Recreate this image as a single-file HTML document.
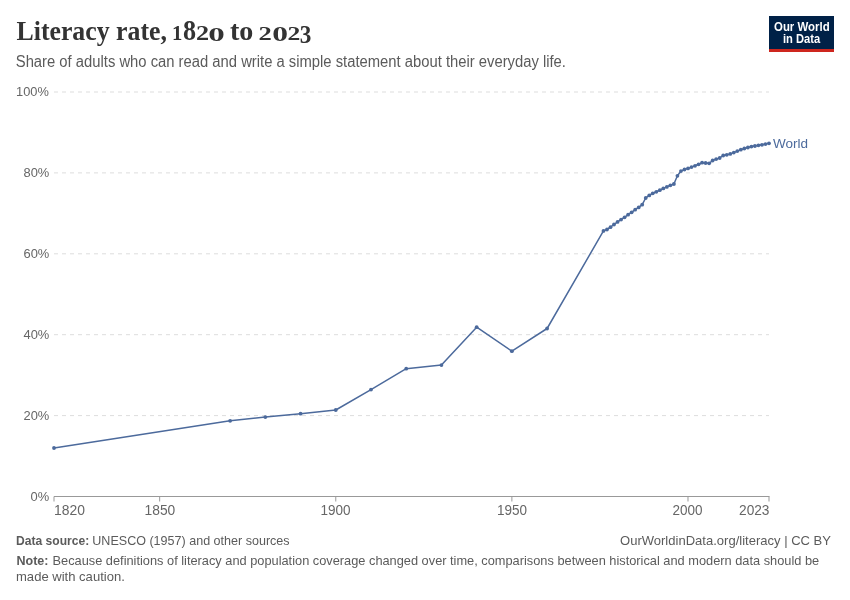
<!DOCTYPE html>
<html><head><meta charset="utf-8"><title>Literacy rate, 1820 to 2023</title><style>
html,body{margin:0;padding:0;background:#fff;}
body{width:850px;height:600px;overflow:hidden;position:relative;font-family:"Liberation Sans",sans-serif;}
svg{position:absolute;left:0;top:0;will-change:transform;}
</style></head><body>
<svg width="850" height="600" viewBox="0 0 850 600">
<rect width="850" height="600" fill="#fff"/>
<rect x="769" y="16" width="65" height="36" fill="#002147"/>
<rect x="769" y="49" width="65" height="3" fill="#ce261e"/>
<g stroke="#ddd" stroke-width="1" stroke-dasharray="4,4">
<line x1="54" x2="769" y1="415.60" y2="415.60"/>
<line x1="54" x2="769" y1="334.70" y2="334.70"/>
<line x1="54" x2="769" y1="253.80" y2="253.80"/>
<line x1="54" x2="769" y1="172.90" y2="172.90"/>
<line x1="54" x2="769" y1="92.00" y2="92.00"/>
</g>
<line x1="54" x2="769.5" y1="496.5" y2="496.5" stroke="#999" stroke-width="1"/>
<g stroke="#999" stroke-width="1">
<line x1="54.00" x2="54.00" y1="496.5" y2="501.5"/>
<line x1="159.67" x2="159.67" y1="496.5" y2="501.5"/>
<line x1="335.77" x2="335.77" y1="496.5" y2="501.5"/>
<line x1="511.88" x2="511.88" y1="496.5" y2="501.5"/>
<line x1="687.99" x2="687.99" y1="496.5" y2="501.5"/>
<line x1="769.00" x2="769.00" y1="496.5" y2="501.5"/>
</g>
<path d="M54.0,448.0 L230.11,420.8 L265.33,417.1 L300.55,413.7 L335.77,410.0 L371.0,389.6 L406.22,368.7 L441.44,365.1 L476.66,327.2 L511.88,351.2 L547.1,328.5 L603.46,230.9 L606.98,229.5 L610.5,227.2 L614.02,224.5 L617.55,221.9 L621.07,219.6 L624.59,217.3 L628.11,214.7 L631.64,212.3 L635.16,209.7 L638.68,207.4 L642.2,204.7 L645.72,198.0 L649.25,195.4 L652.77,193.3 L656.29,191.8 L659.81,190.2 L663.33,188.4 L666.86,186.9 L670.38,185.3 L673.9,184.0 L677.42,175.8 L680.95,171.1 L684.47,169.5 L687.99,168.4 L691.51,167.1 L695.03,165.8 L698.56,164.3 L702.08,162.7 L705.6,163.0 L709.12,163.3 L712.65,160.5 L716.17,159.1 L719.69,158.0 L723.21,155.5 L726.73,154.8 L730.26,153.9 L733.78,152.6 L737.3,151.1 L740.82,149.7 L744.34,148.5 L747.87,147.5 L751.39,146.6 L754.91,146.0 L758.43,145.3 L761.96,144.8 L765.48,144.1 L769.0,143.3" fill="none" stroke="#4c6a9c" stroke-width="1.5" stroke-linejoin="round"/>
<g fill="#4c6a9c">
<circle cx="54.0" cy="448.0" r="1.9"/>
<circle cx="230.11" cy="420.8" r="1.9"/>
<circle cx="265.33" cy="417.1" r="1.9"/>
<circle cx="300.55" cy="413.7" r="1.9"/>
<circle cx="335.77" cy="410.0" r="1.9"/>
<circle cx="371.0" cy="389.6" r="1.9"/>
<circle cx="406.22" cy="368.7" r="1.9"/>
<circle cx="441.44" cy="365.1" r="1.9"/>
<circle cx="476.66" cy="327.2" r="1.9"/>
<circle cx="511.88" cy="351.2" r="1.9"/>
<circle cx="547.1" cy="328.5" r="1.9"/>
<circle cx="603.46" cy="230.9" r="1.9"/>
<circle cx="606.98" cy="229.5" r="1.9"/>
<circle cx="610.5" cy="227.2" r="1.9"/>
<circle cx="614.02" cy="224.5" r="1.9"/>
<circle cx="617.55" cy="221.9" r="1.9"/>
<circle cx="621.07" cy="219.6" r="1.9"/>
<circle cx="624.59" cy="217.3" r="1.9"/>
<circle cx="628.11" cy="214.7" r="1.9"/>
<circle cx="631.64" cy="212.3" r="1.9"/>
<circle cx="635.16" cy="209.7" r="1.9"/>
<circle cx="638.68" cy="207.4" r="1.9"/>
<circle cx="642.2" cy="204.7" r="1.9"/>
<circle cx="645.72" cy="198.0" r="1.9"/>
<circle cx="649.25" cy="195.4" r="1.9"/>
<circle cx="652.77" cy="193.3" r="1.9"/>
<circle cx="656.29" cy="191.8" r="1.9"/>
<circle cx="659.81" cy="190.2" r="1.9"/>
<circle cx="663.33" cy="188.4" r="1.9"/>
<circle cx="666.86" cy="186.9" r="1.9"/>
<circle cx="670.38" cy="185.3" r="1.9"/>
<circle cx="673.9" cy="184.0" r="1.9"/>
<circle cx="677.42" cy="175.8" r="1.9"/>
<circle cx="680.95" cy="171.1" r="1.9"/>
<circle cx="684.47" cy="169.5" r="1.9"/>
<circle cx="687.99" cy="168.4" r="1.9"/>
<circle cx="691.51" cy="167.1" r="1.9"/>
<circle cx="695.03" cy="165.8" r="1.9"/>
<circle cx="698.56" cy="164.3" r="1.9"/>
<circle cx="702.08" cy="162.7" r="1.9"/>
<circle cx="705.6" cy="163.0" r="1.9"/>
<circle cx="709.12" cy="163.3" r="1.9"/>
<circle cx="712.65" cy="160.5" r="1.9"/>
<circle cx="716.17" cy="159.1" r="1.9"/>
<circle cx="719.69" cy="158.0" r="1.9"/>
<circle cx="723.21" cy="155.5" r="1.9"/>
<circle cx="726.73" cy="154.8" r="1.9"/>
<circle cx="730.26" cy="153.9" r="1.9"/>
<circle cx="733.78" cy="152.6" r="1.9"/>
<circle cx="737.3" cy="151.1" r="1.9"/>
<circle cx="740.82" cy="149.7" r="1.9"/>
<circle cx="744.34" cy="148.5" r="1.9"/>
<circle cx="747.87" cy="147.5" r="1.9"/>
<circle cx="751.39" cy="146.6" r="1.9"/>
<circle cx="754.91" cy="146.0" r="1.9"/>
<circle cx="758.43" cy="145.3" r="1.9"/>
<circle cx="761.96" cy="144.8" r="1.9"/>
<circle cx="765.48" cy="144.1" r="1.9"/>
<circle cx="769.0" cy="143.3" r="1.9"/>
</g>
<text x="16.52" y="40" textLength="150.36" lengthAdjust="spacingAndGlyphs" font-family="Liberation Serif" font-weight="bold" font-size="27" fill="#333">Literacy rate,</text>
<text x="229.97" y="40" textLength="23.37" lengthAdjust="spacingAndGlyphs" font-family="Liberation Serif" font-weight="bold" font-size="27" fill="#333">to</text>
<text transform="matrix(0.7650 0 0 0.7571 171.99 39.91)" font-family="Liberation Serif" font-weight="bold" font-size="27" fill="#333">1</text>
<text transform="matrix(0.9691 0 0 1.0571 182.98 39.99)" font-family="Liberation Serif" font-weight="bold" font-size="27" fill="#333">8</text>
<text transform="matrix(0.9722 0 0 0.7571 195.97 39.91)" font-family="Liberation Serif" font-weight="bold" font-size="27" fill="#333">2</text>
<text transform="matrix(1.2229 0 0 0.7343 208.24 41.08)" font-family="Liberation Serif" font-weight="bold" font-size="27" fill="#333">0</text>
<text transform="matrix(0.9852 0 0 0.7129 258.52 39.97)" font-family="Liberation Serif" font-weight="bold" font-size="27" fill="#333">2</text>
<text transform="matrix(1.1665 0 0 0.7459 272.25 41.07)" font-family="Liberation Serif" font-weight="bold" font-size="27" fill="#333">0</text>
<text transform="matrix(0.9485 0 0 0.7129 287.55 39.97)" font-family="Liberation Serif" font-weight="bold" font-size="27" fill="#333">2</text>
<text transform="matrix(0.8600 0 0 0.9271 299.63 43.00)" font-family="Liberation Serif" font-weight="bold" font-size="27" fill="#333">3</text>
<text x="15.78" y="66.6" textLength="550.19" lengthAdjust="spacingAndGlyphs" font-family="Liberation Sans" font-weight="normal" font-size="15.6" fill="#5b5b5b">Share of adults who can read and write a simple statement about their everyday life.</text>
<text x="30.54" y="500.7" textLength="18.64" lengthAdjust="spacingAndGlyphs" font-family="Liberation Sans" font-weight="normal" font-size="13.3" fill="#666">0%</text>
<text x="23.51" y="419.8" textLength="25.83" lengthAdjust="spacingAndGlyphs" font-family="Liberation Sans" font-weight="normal" font-size="13.3" fill="#666">20%</text>
<text x="23.49" y="338.9" textLength="25.84" lengthAdjust="spacingAndGlyphs" font-family="Liberation Sans" font-weight="normal" font-size="13.3" fill="#666">40%</text>
<text x="23.51" y="258.0" textLength="25.83" lengthAdjust="spacingAndGlyphs" font-family="Liberation Sans" font-weight="normal" font-size="13.3" fill="#666">60%</text>
<text x="23.51" y="177.1" textLength="25.83" lengthAdjust="spacingAndGlyphs" font-family="Liberation Sans" font-weight="normal" font-size="13.3" fill="#666">80%</text>
<text x="16.03" y="96.2" textLength="32.82" lengthAdjust="spacingAndGlyphs" font-family="Liberation Sans" font-weight="normal" font-size="13.3" fill="#666">100%</text>
<text x="54.02" y="515" textLength="30.91" lengthAdjust="spacingAndGlyphs" font-family="Liberation Sans" font-weight="normal" font-size="14" fill="#666">1820</text>
<text x="144.54" y="515" textLength="30.71" lengthAdjust="spacingAndGlyphs" font-family="Liberation Sans" font-weight="normal" font-size="14" fill="#666">1850</text>
<text x="320.42" y="515" textLength="30.10" lengthAdjust="spacingAndGlyphs" font-family="Liberation Sans" font-weight="normal" font-size="14" fill="#666">1900</text>
<text x="496.97" y="515" textLength="30.07" lengthAdjust="spacingAndGlyphs" font-family="Liberation Sans" font-weight="normal" font-size="14" fill="#666">1950</text>
<text x="672.50" y="515" textLength="30.07" lengthAdjust="spacingAndGlyphs" font-family="Liberation Sans" font-weight="normal" font-size="14" fill="#666">2000</text>
<text x="739.02" y="515" textLength="30.48" lengthAdjust="spacingAndGlyphs" font-family="Liberation Sans" font-weight="normal" font-size="14" fill="#666">2023</text>
<text x="772.98" y="148" textLength="35.02" lengthAdjust="spacingAndGlyphs" font-family="Liberation Sans" font-weight="normal" font-size="13" fill="#4c6a9c">World</text>
<text x="774.02" y="30.7" textLength="55.62" lengthAdjust="spacingAndGlyphs" font-family="Liberation Sans" font-weight="bold" font-size="12" fill="#fff">Our World</text>
<text x="783.02" y="42.7" textLength="37.19" lengthAdjust="spacingAndGlyphs" font-family="Liberation Sans" font-weight="bold" font-size="12" fill="#fff">in Data</text>
<text x="16.04" y="545" textLength="73.24" lengthAdjust="spacingAndGlyphs" font-family="Liberation Sans" font-weight="bold" font-size="13" fill="#5b5b5b">Data source:</text>
<text x="92.27" y="545" textLength="197.36" lengthAdjust="spacingAndGlyphs" font-family="Liberation Sans" font-weight="normal" font-size="13" fill="#5b5b5b">UNESCO (1957) and other sources</text>
<text x="620.00" y="545" textLength="210.98" lengthAdjust="spacingAndGlyphs" font-family="Liberation Sans" font-weight="normal" font-size="13" fill="#5b5b5b">OurWorldinData.org/literacy | CC BY</text>
<text x="16.53" y="565" textLength="31.98" lengthAdjust="spacingAndGlyphs" font-family="Liberation Sans" font-weight="bold" font-size="13" fill="#5b5b5b">Note:</text>
<text x="52.52" y="565" textLength="766.62" lengthAdjust="spacingAndGlyphs" font-family="Liberation Sans" font-weight="normal" font-size="13" fill="#5b5b5b">Because definitions of literacy and population coverage changed over time, comparisons between historical and modern data should be</text>
<text x="16.00" y="581" textLength="108.81" lengthAdjust="spacingAndGlyphs" font-family="Liberation Sans" font-weight="normal" font-size="13" fill="#5b5b5b">made with caution.</text>
</svg>
</body></html>
